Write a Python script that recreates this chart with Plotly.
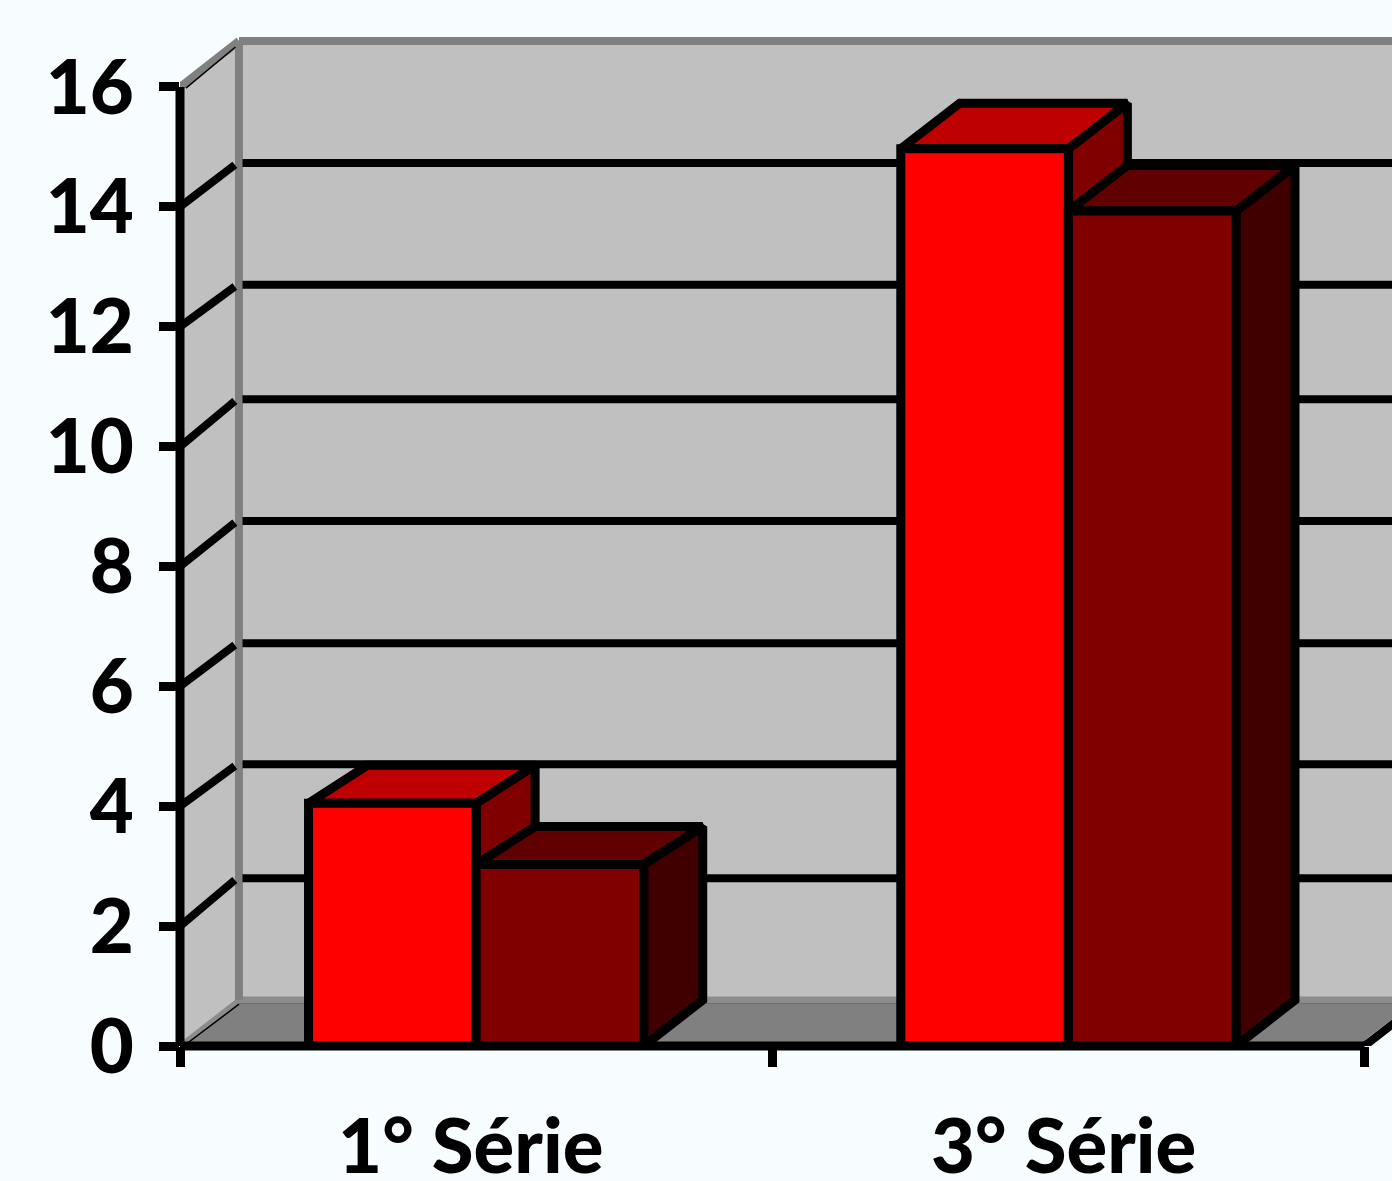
import plotly.graph_objects as go

categories = ["1° Série", "3° Série"]
label_pos = [-0.009, 0.992]
serie_a = [4.05, 14.97]
serie_b = [3.03, 13.93]
bar_depth = [0.634, 0.76]
y_ticks = [0, 2, 4, 6, 8, 10, 12, 14, 16]
grid_back = [2.80, 4.70, 6.72, 8.76, 10.79, 12.70, 14.73]
grid_front = [2, 4, 6, 8, 10, 12, 14]

BG = "#F7FCFF"
WALL = "#C0C0C0"
FLOOR = "#808080"
BLACK = "#000000"
LW = 9
GW = 8
DX = 0.0996     # depth offset, x units per category
DY = 0.767      # depth offset, value units
BAR_W = 0.283
XMIN, XMAX = -0.5, 1.5464
YMAX = 16.85
XEND = XMAX + 0.2
XCORNER = 1.5

fig = go.Figure()


def poly(xs, ys, fill=None, color=BLACK, width=LW):
    closed = fill is not None
    fig.add_trace(go.Scatter(
        x=list(xs) + ([xs[0]] if closed else []),
        y=list(ys) + ([ys[0]] if closed else []),
        mode="lines",
        fill="toself" if closed else "none",
        fillcolor=fill,
        line=dict(color=color, width=width),
        hoverinfo="skip",
        showlegend=False,
    ))


# walls and floor
poly([XMIN + DX, XEND, XEND, XMIN + DX], [DY, DY, 16 + DY, 16 + DY], WALL, WALL, 0.1)
poly([XMIN, XMIN + DX, XMIN + DX, XMIN], [0, DY, 16 + DY, 16], WALL, WALL, 0.1)
poly([XMIN, XCORNER, XCORNER + DX, XMIN + DX], [0, 0, DY, DY], FLOOR, FLOOR, 0.1)
poly([XMIN + DX, XEND], [DY, DY], color="#8C8C8C", width=7)
poly([XMIN + DX, XEND], [DY - 0.06, DY - 0.06], color="#6E6E6E", width=1)
poly([XMIN, XMIN + DX], [0, DY], color="#8C8C8C", width=5)
poly([XMIN + 0.006, XMIN + DX], [0.0, DY - 0.07], color=BLACK, width=1.5)
poly([XMIN + DX, XMIN + DX], [DY, 16 + DY], color="#808080", width=8)
poly([XMIN + DX, XEND], [16 + DY, 16 + DY], color="#808080", width=8)
poly([XMIN, XMIN + DX], [16, 16 + DY], color="#808080", width=8)
poly([XMIN + 0.01, XMIN + DX - 0.006], [16 - 0.02, 16 + DY - 0.1], color=BLACK, width=1.5)

# grid on the back wall, continued down the side wall
for front, back in zip(grid_front, grid_back):
    poly([XMIN + DX + 0.006, XEND], [back, back], width=GW)
    poly([XMIN, XMIN + DX - 0.007], [front, back - 0.03], width=GW)

# right-hand floor corner
poly([XCORNER + 0.003, XCORNER + DX + 0.003], [0.09, DY + 0.09], color="#FFFFFF", width=2)
poly([XCORNER, XCORNER + DX], [0, DY], width=GW)


def box(center, side_w, value, depth, front, top, side):
    x0, x1 = center + side_w * BAR_W, center + (side_w + 1) * BAR_W
    poly([x1, x1 + DX, x1 + DX, x1], [0, DY, value + depth, value], side)
    poly([x0, x0 + DX, x1 + DX, x1], [value, value + depth, value + depth, value], top)
    poly([x0, x1, x1, x0], [0, 0, value, value], front)


for i in range(len(categories)):
    box(i, -1, serie_a[i], bar_depth[i], "#FF0000", "#BE0000", "#800000")
    box(i, 0, serie_b[i], bar_depth[i], "#800000", "#600000", "#400000")

# axis lines (paper coordinates so that they are not clipped by the plot area)
x_frac = (XCORNER - XMIN) / (XMAX - XMIN)
y_frac = 16 / YMAX
fig.add_shape(type="line", xref="paper", yref="paper", x0=0, x1=0, y0=0, y1=y_frac,
              line=dict(color=BLACK, width=LW), layer="above")
fig.add_shape(type="line", xref="paper", yref="paper", x0=0, x1=x_frac, y0=0, y1=0,
              line=dict(color=BLACK, width=LW), layer="above")

TEXT = dict(family="Lato", size=76, color=BLACK, weight=900)
fig.update_layout(
    width=1392, height=1181,
    margin=dict(l=180, r=0, t=36, b=135, autoexpand=False),
    paper_bgcolor=BG, plot_bgcolor=BG,
    showlegend=False,
    font=TEXT,
    xaxis=dict(
        range=[XMIN, XMAX], showgrid=False, zeroline=False, showline=False, automargin=False,
        tickmode="array", tickvals=label_pos, ticktext=categories, ticks="",
        ticklabelstandoff=50, tickfont=TEXT,
        minor=dict(tickmode="array", tickvals=[-0.5, 0.5, 1.5], ticks="outside",
                   ticklen=20, tickwidth=LW, tickcolor=BLACK, showgrid=False),
    ),
    yaxis=dict(
        range=[0, YMAX], showgrid=False, zeroline=False, showline=False, automargin=False,
        tickmode="array", tickvals=y_ticks, ticktext=[str(v) for v in y_ticks],
        ticks="outside", ticklen=20, tickwidth=LW, tickcolor=BLACK,
        ticklabelstandoff=10, tickfont=TEXT,
    ),
)

fig.write_html(
    "out.html",
    config=dict(displayModeBar=False),
    post_script="document.body.style.margin='0';document.body.style.overflow='hidden';"
                "document.body.style.background='#F7FCFF';",
)
